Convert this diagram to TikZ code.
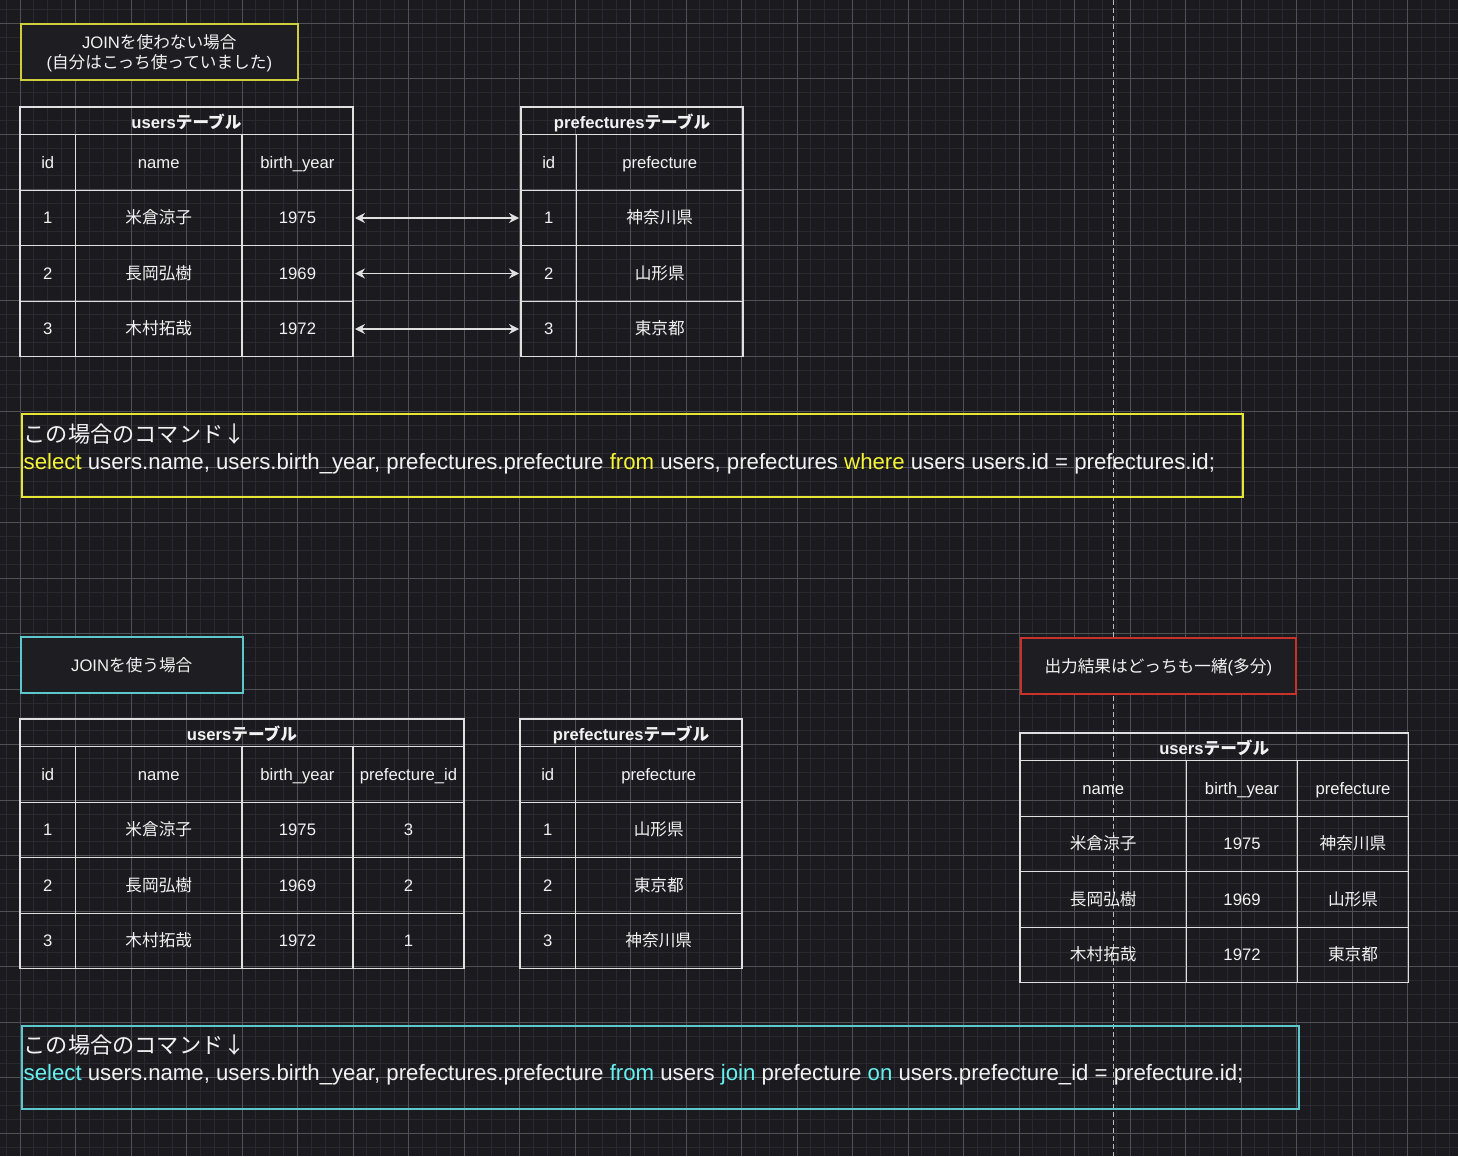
\documentclass[tikz,border=0pt]{standalone}
\usepackage{fontspec}
\setmainfont{Liberation Sans}
\newfontfamily\jp{Noto Sans CJK JP}
\usetikzlibrary{arrows.meta,positioning,calc}
\definecolor{canvas}{HTML}{1B1A1F}
\definecolor{gridminor}{HTML}{2A292F}
\definecolor{gridmajor}{HTML}{505056}
\definecolor{tline}{HTML}{E0E0E0}
\definecolor{txt}{HTML}{F2F2F2}
\definecolor{boxbg}{HTML}{1E1D22}
\definecolor{noteyel}{HTML}{CFCF3C}
\definecolor{cmdyel}{HTML}{E6E633}
\definecolor{notecyan}{HTML}{5CC8CD}
\definecolor{notered}{HTML}{C8322B}
\definecolor{kwyel}{HTML}{F5F536}
\definecolor{kwcyan}{HTML}{66F2F2}
\definecolor{guide}{HTML}{BDBDBD}
\newcommand{\tfont}{\fontsize{16.65}{20}\selectfont}
\newcommand{\cfont}{\fontsize{22.2}{27.2}\selectfont}
\newcommand{\kwy}[1]{\textcolor{kwyel}{#1}}
\newcommand{\kwc}[1]{\textcolor{kwcyan}{#1}}
\tikzset{
  cell/.style={draw=tline, line width=1.3pt, outer sep=0pt, inner sep=0pt, minimum height=55.5pt, font=\tfont, text=txt, text height=11.7pt, text depth=0pt},
  hdr/.style={cell, minimum height=27.75pt, anchor=north west, font=\tfont\bfseries, text height=15.7pt},
  cid/.style={cell, minimum width=55.5pt},
  cwide/.style={cell, minimum width=166.5pt},
  cnarrow/.style={cell, minimum width=111pt},
  note/.style={draw, line width=1.6pt, fill=boxbg, anchor=north west, align=center, font=\tfont, text=txt, text depth=0pt, minimum height=56pt},
  cmd/.style={draw, line width=1.5pt, anchor=north west, minimum height=83pt},
  cmdtext/.style={anchor=west, inner sep=0pt, align=left, font=\cfont, text=txt},
  dbl/.style={{Stealth[length=10pt,width=10pt]}-{Stealth[length=10pt,width=10pt]}, line width=1.5pt, color=tline, shorten <=2pt, shorten >=2pt},
}

\begin{document}
\begin{tikzpicture}[x=1pt, y=-1pt]
  \useasboundingbox (0,0) rectangle (1458,1156);
  \fill[canvas] (0,0) rectangle (1458,1156);
  % grid
  \foreach \i in {0,...,105} \draw[gridminor, line width=1pt] ({6.125+13.875*\i},0) -- ++(0,1156);
  \foreach \i in {0,...,83} \draw[gridminor, line width=1pt] (0,{9.425+13.875*\i}) -- ++(1458,0);
  \foreach \i in {0,...,25} \draw[gridmajor, line width=1pt] ({20+55.5*\i},0) -- ++(0,1156);
  \foreach \i in {0,...,20} \draw[gridmajor, line width=1pt] (0,{23.3+55.5*\i}) -- ++(1458,0);
  % guide line
  \coordinate (guideTop) at (1113,0);
  \coordinate (guideBot) at (1113,1156);
  \draw[guide, line width=1pt, dash pattern=on 5pt off 3pt] (guideTop) -- (guideBot);

  % notes
  \node[note, draw=noteyel, minimum width=277pt] (noJoin) at (20,23) {JOIN{\jp を使わない場合}\\({\jp 自分はこっち使っていました})};
  \node[note, draw=notecyan, minimum width=222pt] (withJoin) at (20,636) {JOIN{\jp を使う場合}};
  \node[note, draw=notered, minimum width=275pt] (sameOut) at (1020,637) {{\jp 出力結果はどっちも一緒}({\jp 多分})};

  % without join: users / prefectures
  \node[hdr, minimum width=333pt] (uH) at (20,107) {users{\jp テーブル}};
  \foreach \a/\b/\c [count=\k from 0] in {id/name/birth\_year, 1/{\jp 米倉涼子}/1975, 2/{\jp 長岡弘樹}/1969, 3/{\jp 木村拓哉}/1972} {
    \node[cid, anchor=north west] (uid\k) at ($(uH.south west)+(0,55.5*\k)$) {\a};
    \node[cwide, right=0pt of uid\k] (uname\k) {\b};
    \node[cnarrow, right=0pt of uname\k] (uyear\k) {\c};
  }
  \node[hdr, minimum width=222pt] (pH) at (521,107) {prefectures{\jp テーブル}};
  \foreach \a/\b [count=\k from 0] in {id/prefecture, 1/{\jp 神奈川県}, 2/{\jp 山形県}, 3/{\jp 東京都}} {
    \node[cid, anchor=north west] (pid\k) at ($(pH.south west)+(0,55.5*\k)$) {\a};
    \node[cwide, right=0pt of pid\k] (ppref\k) {\b};
  }
  \foreach \k in {1,2,3} \draw[dbl] (uyear\k.east) -- (pid\k.west);

  \node[cmd, draw=cmdyel, minimum width=1221pt] (cmdA) at (21,413) {};
  \node[cmdtext] (cmdAtxt) at ($(cmdA.west)+(2.5,-6.5)$) {{\jp この場合のコマンド↓}\\\kwy{select} users.name, users.birth\_year, prefectures.prefecture \kwy{from} users, prefectures \kwy{where} users users.id = prefectures.id;};

  % with join: users / prefectures
  \node[hdr, minimum width=444pt] (juH) at (20,719) {users{\jp テーブル}};
  \foreach \a/\b/\c/\d [count=\k from 0] in {id/name/birth\_year/prefecture\_id, 1/{\jp 米倉涼子}/1975/3, 2/{\jp 長岡弘樹}/1969/2, 3/{\jp 木村拓哉}/1972/1} {
    \node[cid, anchor=north west] (juid\k) at ($(juH.south west)+(0,55.5*\k)$) {\a};
    \node[cwide, right=0pt of juid\k] (juname\k) {\b};
    \node[cnarrow, right=0pt of juname\k] (juyear\k) {\c};
    \node[cnarrow, right=0pt of juyear\k] (jupid\k) {\d};
  }
  \node[hdr, minimum width=222pt] (jpH) at (520,719) {prefectures{\jp テーブル}};
  \foreach \a/\b [count=\k from 0] in {id/prefecture, 1/{\jp 山形県}, 2/{\jp 東京都}, 3/{\jp 神奈川県}} {
    \node[cid, anchor=north west] (jpid\k) at ($(jpH.south west)+(0,55.5*\k)$) {\a};
    \node[cwide, right=0pt of jpid\k] (jppref\k) {\b};
  }

  % result
  \node[hdr, minimum width=388.5pt] (rH) at (1020,733) {users{\jp テーブル}};
  \foreach \a/\b/\c [count=\k from 0] in {name/birth\_year/prefecture, {\jp 米倉涼子}/1975/{\jp 神奈川県}, {\jp 長岡弘樹}/1969/{\jp 山形県}, {\jp 木村拓哉}/1972/{\jp 東京都}} {
    \node[cwide, anchor=north west] (rname\k) at ($(rH.south west)+(0,55.5*\k)$) {\a};
    \node[cnarrow, right=0pt of rname\k] (ryear\k) {\b};
    \node[cnarrow, right=0pt of ryear\k] (rpref\k) {\c};
  }

  \node[cmd, draw=notecyan, minimum width=1277pt] (cmdB) at (21,1025) {};
  \node[cmdtext] (cmdBtxt) at ($(cmdB.west)+(2.5,-7)$) {{\jp この場合のコマンド↓}\\\kwc{select} users.name, users.birth\_year, prefectures.prefecture \kwc{from} users \kwc{join} prefecture \kwc{on} users.prefecture\_id = prefecture.id;};
\end{tikzpicture}
\end{document}
